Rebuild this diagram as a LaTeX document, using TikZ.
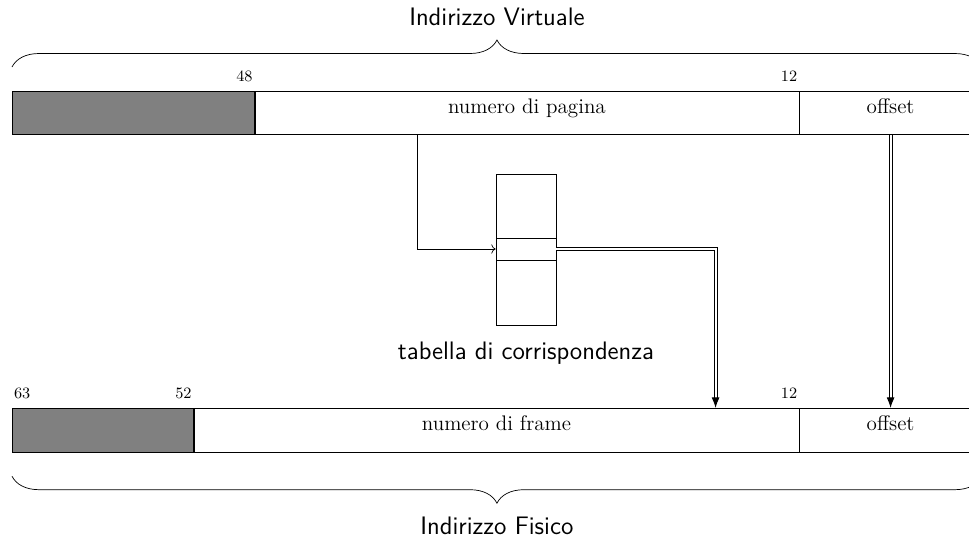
\documentclass[tikz,border=0pt]{standalone}
\usepackage{tikz}
\usetikzlibrary{decorations.pathreplacing, arrows.meta, positioning}

\begin{document}
\begin{tikzpicture}[
    x=0.02cm, y=-0.02cm,
    field/.style={rectangle, draw, anchor=north west, minimum height=0.87cm, inner sep=0pt,
        font=\large, text height=7pt, text depth=7pt},
    bit/.style={font=\small, inner sep=1pt, yshift=4pt},
    title/.style={font=\sffamily\Large},
    dbl/.style={double, double distance=1.1pt, line width=0.6pt, -{Latex[length=6pt, width=4.5pt]}},
    brace/.style={decorate, decoration={brace, amplitude=0.54cm}}
]
    \useasboundingbox (0, 0) rectangle (969, 538);

    % Virtual address
    \node[field, fill=gray, minimum width=4.84cm] (vres) at (12, 91) {};
    \node[field, minimum width=10.88cm] (vpage) at (vres.north east) {numero di pagina};
    \node[field, minimum width=3.64cm] (voff) at (vpage.north east) {offset};

    \node[bit, anchor=south east] at (vres.north east) {48};
    \node[bit, anchor=south east] at (vpage.north east) {12};
    \node[bit, anchor=south east] at (voff.north east) {0};

    \draw[brace] ([yshift=0.48cm]vres.north west) -- ([yshift=0.48cm]voff.north east)
        node[midway, above=0.7cm, title] {Indirizzo Virtuale};

    % Page table
    \node[draw, minimum width=1.2cm, minimum height=3.02cm, inner sep=0pt] (table) at (526, 249.5) {};
    \node[draw, minimum width=1.2cm, minimum height=0.44cm, inner sep=0pt] (entry) at (526, 249) {};
    \node[title, below=0.2cm of table] {tabella di corrispondenza};

    % Physical address
    \node[field, fill=gray, minimum width=3.62cm] (pres) at (12, 408) {};
    \node[field, minimum width=12.1cm] (pframe) at (pres.north east) {numero di frame};
    \node[field, minimum width=3.64cm] (poff) at (pframe.north east) {offset};

    \node[bit, anchor=south west] at (pres.north west) {63};
    \node[bit, anchor=south east] at (pres.north east) {52};
    \node[bit, anchor=south east] at (pframe.north east) {12};
    \node[bit, anchor=south east] at (poff.north east) {0};

    \draw[brace] ([yshift=-0.48cm]poff.south east) -- ([yshift=-0.48cm]pres.south west)
        node[midway, below=0.7cm, title] {Indirizzo Fisico};

    % Translation
    \draw[->] ([xshift=3.26cm]vpage.south west) |- (entry.west);
    \draw[dbl] (entry.east) -| ([xshift=10.44cm]pframe.north west);
    \draw[dbl] (voff.south) -- (poff.north);
\end{tikzpicture}
\end{document}
